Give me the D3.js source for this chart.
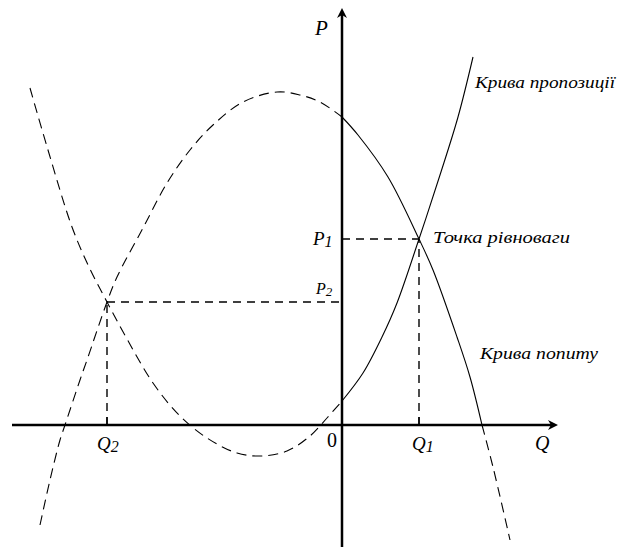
<!DOCTYPE html>
<meta charset="utf-8">
<script src="https://d3js.org/d3.v7.min.js"></script>
<style>
  body { margin: 0; background: #fff; }
  text { font-family: "Liberation Serif", "Times New Roman", serif; fill: #000; }
</style>
<div id="chart"></div>
<script>

  // points, [Q, P]
  var supplyCurve = [
    [-31.2, 33.7], [-29.4, 27.5], [-27.0, 19.8], [-25.3, 15.8], [-23.5, 12.3],
    [-21.5, 8.6], [-18.9, 4.2], [-16.3, 1.0], [-13.5, -1.3], [-10.5, -2.8],
    [-8.0, -3.1], [-5.5, -2.6], [-3.2, -1.1], [-1.5, 0.7], [0, 2.4],
    [2.1, 5.2], [4.0, 8.8], [5.5, 12.2], [7.7, 18.6], [9.8, 25.0],
    [11.6, 30.8], [13.1, 36.8]
  ];
  var demandCurve = [
    [-30.2, -10.0], [-29.2, -5.5], [-28.2, -1.5], [-27.7, 0], [-26.2, 4.5],
    [-25.5, 6.5], [-23.5, 12.3], [-22.5, 14.8], [-19.9, 19.7], [-17.5, 24.2],
    [-15.2, 27.5], [-12.9, 30.0], [-9.9, 32.3], [-6.5, 33.3], [-4.2, 33.0],
    [-2.2, 32.3], [0, 30.8], [1.6, 29.0], [4.6, 24.8], [7.7, 18.6],
    [9.1, 15.5], [11.5, 8.8], [12.8, 4.8], [14.0, 0], [15.1, -4.2], [16.8, -11.5]
  ];

  // intersections: Q1/P1 (equilibrium) and Q2/P2
  var Q1 = 7.7, P1 = 18.6;
  var Q2 = -23.5, P2 = 12.3;

  var curveLabels = ["Крива пропозиції", "Точка рівноваги", "Крива попиту"];

  var width = 625, height = 547;

  var svg = d3.select("#chart")
    .append("svg")
      .attr("width", width)
      .attr("height", height);

  var x = d3.scaleLinear().domain([-33, 21.6]).range([12, 558]);
  var y = d3.scaleLinear().domain([-12.2, 41.7]).range([547, 8]);

  var line = d3.line()
    .x(function(d) { return x(d[0]); })
    .y(function(d) { return y(d[1]); })
    .curve(d3.curveCatmullRom);

  // dashed helper lines
  var guides = [
    [[Q1, 0], [Q1, P1]],
    [[0, P1], [Q1, P1]],
    [[Q2, 0], [Q2, P2]],
    [[Q2, P2], [0, P2]]
  ];
  svg.append("g").selectAll("line")
    .data(guides)
    .enter()
    .append("line")
      .attr("x1", function(d) { return x(d[0][0]); })
      .attr("y1", function(d) { return y(d[0][1]); })
      .attr("x2", function(d) { return x(d[1][0]); })
      .attr("y2", function(d) { return y(d[1][1]); })
      .attr("stroke", "#000")
      .attr("stroke-width", 1.4)
      .attr("stroke-dasharray", "8,6");

  // curves: solid in the first quadrant, dashed elsewhere
  function part(data, lo, hi) {
    return data.filter(function(d) { return d[0] >= lo && d[0] <= hi; });
  }
  var solidParts = [part(supplyCurve, 0, 99), part(demandCurve, 0, 14)];
  var dashedParts = [part(supplyCurve, -99, 0), part(demandCurve, -99, 0), part(demandCurve, 14, 99)];

  svg.append("g").selectAll("path")
    .data(dashedParts)
    .enter()
    .append("path")
      .attr("d", line)
      .attr("fill", "none")
      .attr("stroke", "#000")
      .attr("stroke-width", 1.1)
      .attr("stroke-dasharray", "10,6");

  svg.append("g").selectAll("path")
    .data(solidParts)
    .enter()
    .append("path")
      .attr("d", line)
      .attr("fill", "none")
      .attr("stroke", "#000")
      .attr("stroke-width", 1.1);

  // axes
  svg.append("line")
    .attr("x1", x(-33)).attr("x2", x(21.0))
    .attr("y1", y(0)).attr("y2", y(0))
    .attr("stroke", "#000").attr("stroke-width", 2.5);
  svg.append("line")
    .attr("x1", x(0)).attr("x2", x(0))
    .attr("y1", y(-12.2)).attr("y2", y(41.0))
    .attr("stroke", "#000").attr("stroke-width", 2.5);

  // arrow heads
  var xe = x(21.6), ye = y(0);
  svg.append("path")
    .attr("d", "M" + xe + "," + ye + "L" + (xe - 10) + "," + (ye - 5) + "L" + (xe - 7) + "," + ye + "L" + (xe - 10) + "," + (ye + 5) + "Z")
    .attr("fill", "#000");
  var xa = x(0), ya = y(41.7);
  svg.append("path")
    .attr("d", "M" + xa + "," + ya + "L" + (xa - 5) + "," + (ya + 10) + "L" + xa + "," + (ya + 7) + "L" + (xa + 5) + "," + (ya + 10) + "Z")
    .attr("fill", "#000");

  // ticks at Q2 and Q1
  svg.append("g").selectAll("line")
    .data([Q2, Q1])
    .enter()
    .append("line")
      .attr("x1", function(d) { return x(d); })
      .attr("x2", function(d) { return x(d); })
      .attr("y1", y(0))
      .attr("y2", y(0) - 8)
      .attr("stroke", "#000")
      .attr("stroke-width", 1.4);

  // axis labels
  function subLabel(tx, ty, main, sub, size) {
    var t = svg.append("text")
      .attr("x", tx).attr("y", ty)
      .style("font-style", "italic")
      .style("font-size", size + "px");
    t.append("tspan").text(main);
    if (sub) {
      t.append("tspan")
        .attr("dy", 2)
        .style("font-size", (size - 3) + "px")
        .text(sub);
    }
  }
  subLabel(315, 35, "P", null, 21);
  subLabel(535, 450, "Q", null, 20);
  subLabel(313, 245, "P", "1", 19);
  subLabel(316, 294, "P", "2", 16);
  subLabel(x(Q2) - 10, 450, "Q", "2", 19);
  subLabel(x(Q1) - 7, 450, "Q", "1", 19);

  svg.append("text")
    .attr("x", 327).attr("y", 447)
    .style("font-size", "20px")
    .text("0");

  // curve captions
  var capPos = [[475, 88, 140], [433, 243, 137], [480, 359, 118]];
  svg.append("g").selectAll("text")
    .data(curveLabels)
    .enter()
    .append("text")
      .attr("x", function(d, i) { return capPos[i][0]; })
      .attr("y", function(d, i) { return capPos[i][1]; })
      .attr("textLength", function(d, i) { return capPos[i][2]; })
      .attr("lengthAdjust", "spacingAndGlyphs")
      .style("font-style", "italic")
      .style("font-size", "16px")
      .text(function(d) { return d; });

</script>
